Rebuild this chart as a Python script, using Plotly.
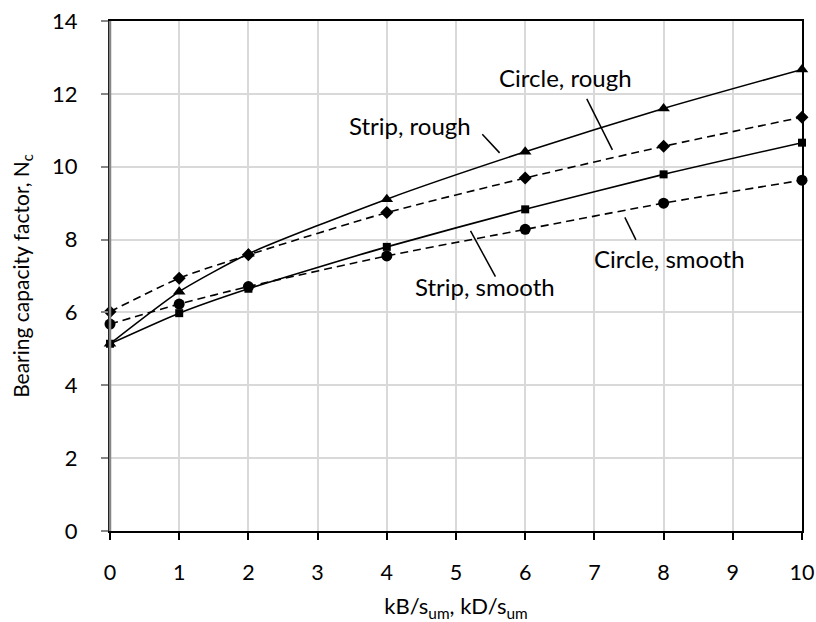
import plotly.graph_objects as go

x_vals = [0, 1, 2, 4, 6, 8, 10]
strip_rough = [5.14, 6.57, 7.61, 9.11, 10.41, 11.60, 12.67]
circle_rough = [6.02, 6.94, 7.58, 8.74, 9.69, 10.56, 11.36]
strip_smooth = [5.14, 5.98, 6.65, 7.80, 8.83, 9.79, 10.66]
circle_smooth = [5.68, 6.23, 6.71, 7.55, 8.28, 9.00, 9.63]

x_ticks = list(range(0, 11))
y_ticks = list(range(0, 15, 2))

# label text positions and leader lines (data coords)
labels = [
    ("Circle, rough", 6.58, 12.46, (6.89, 11.86, 7.26, 10.46)),
    ("Strip, rough", 4.34, 11.14, (5.38, 10.89, 5.63, 10.38)),
    ("Strip, smooth", 5.42, 6.71, (5.21, 8.24, 5.57, 6.98)),
    ("Circle, smooth", 8.09, 7.49, (7.44, 8.61, 7.60, 7.99)),
]

FONT = "Lato, 'Open Sans', sans-serif"

fig = go.Figure()

def add(y, symbol, size, dash):
    fig.add_trace(go.Scatter(
        x=x_vals, y=y, mode="lines+markers",
        line=dict(color="black", width=1.6, dash=dash, shape="spline", smoothing=0.6),
        marker=dict(symbol=symbol, size=size, color="black"),
        cliponaxis=False, showlegend=False,
    ))

add(circle_smooth, "circle", 11, "8px,5px")
add(circle_rough, "diamond", 10, "8px,5px")
add(strip_smooth, "square", 8, "solid")
add(strip_rough, "triangle-up", 11, "solid")

for text, tx, ty, (x0, y0, x1, y1) in labels:
    fig.add_annotation(x=tx, y=ty, text=text, showarrow=False,
                       font=dict(family=FONT, size=24, color="black"))
    fig.add_shape(type="line", x0=x0, y0=y0, x1=x1, y1=y1,
                  line=dict(color="black", width=1.5))

fig.update_layout(
    width=816, height=622,
    margin=dict(l=110, r=14, t=21, b=91),
    paper_bgcolor="white", plot_bgcolor="white",
    font=dict(family=FONT, size=22, color="black"),
)
fig.update_xaxes(
    range=[0, 10], tickvals=x_ticks, showgrid=True, gridcolor="#d9d9d9", gridwidth=1.5,
    zeroline=False, showline=True, linecolor="black", linewidth=2, mirror=True,
    ticks="outside", ticklen=7, tickcolor="black", tickwidth=1.5,
    ticklabelstandoff=14, automargin=False,
    tickfont=dict(size=21.5),
    title=dict(text="kB/s<sub>um</sub>, kD/s<sub>um</sub>", font=dict(size=22), standoff=22),
)
fig.update_yaxes(
    range=[0, 14], tickvals=y_ticks, showgrid=True, gridcolor="#d9d9d9", gridwidth=1.5,
    zeroline=False, showline=True, linecolor="black", linewidth=2, mirror=True,
    ticks="outside", ticklen=7, tickcolor="#868686", tickwidth=1.5,
    ticklabelstandoff=19, automargin=False,
    tickfont=dict(size=22),
    title=dict(text="Bearing capacity factor, N<sub>c</sub>", font=dict(size=21), standoff=17),
)
# grey left axis line overlay
fig.add_shape(type="line", xref="paper", yref="paper", x0=0, x1=0, y0=0, y1=1,
              line=dict(color="#868686", width=2.5))

fig.write_html("out.html")
